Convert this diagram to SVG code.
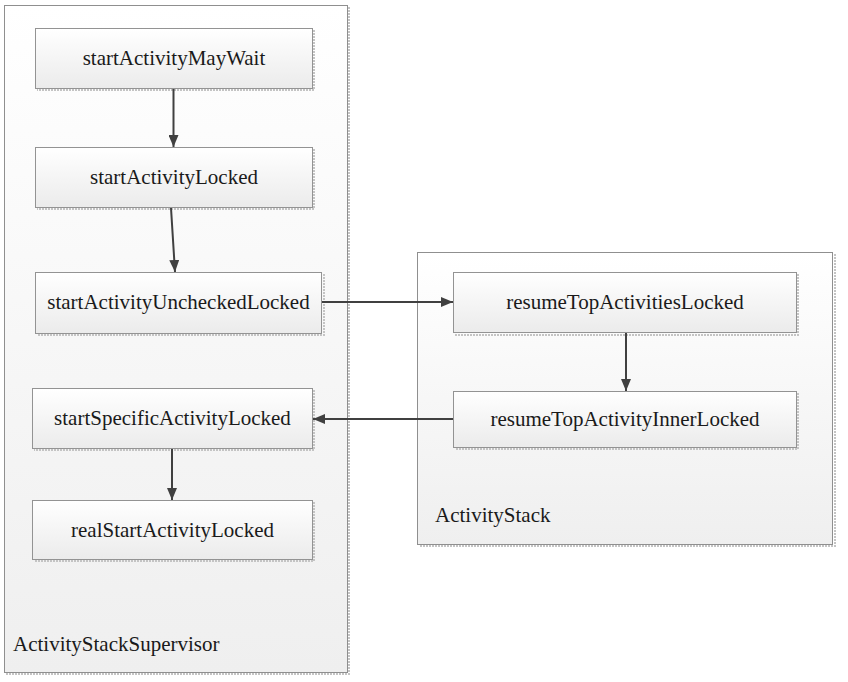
<svg xmlns="http://www.w3.org/2000/svg" width="848" height="682" viewBox="0 0 848 682">
<defs>
<linearGradient id="gc" x1="0" y1="0" x2="0" y2="1">
<stop offset="0" stop-color="#ffffff"/>
<stop offset="1" stop-color="#efefef"/>
</linearGradient>
<linearGradient id="gn" x1="0" y1="0" x2="0" y2="1">
<stop offset="0" stop-color="#ffffff"/>
<stop offset="1" stop-color="#ebebeb"/>
</linearGradient>
<marker id="ah" viewBox="0 0 12 10" refX="12" refY="5" markerWidth="12" markerHeight="10" markerUnits="userSpaceOnUse" orient="auto">
<path d="M0,0 L12,5 L0,10 Z" fill="#404040"/>
</marker>
</defs>
<style>
.cont{fill:url(#gc);stroke:#8f8f8f;stroke-width:1}
.node{fill:url(#gn);stroke:#939393;stroke-width:1}
.sh{fill:none;stroke:#c4c4c4;stroke-width:2;stroke-dasharray:2 1}
.t{font-family:'Liberation Serif','Times New Roman','DejaVu Serif',serif;font-size:21px;fill:#1a1a1a}
.c{text-anchor:middle}
.e{fill:none;stroke:#404040;stroke-width:2;marker-end:url(#ah)}
</style>
<rect width="848" height="682" fill="#ffffff"/>
<g id="ActivityStackSupervisor">
<path class="sh" d="M349,7 V674 H6"/>
<rect class="cont" x="4.5" y="5.5" width="343" height="667"/>
<text class="t" x="13" y="651">ActivityStackSupervisor</text>
</g>
<g id="ActivityStack">
<path class="sh" d="M835,254 V546 H419"/>
<rect class="cont" x="417.5" y="252.5" width="415" height="292"/>
<text class="t" x="435" y="522">ActivityStack</text>
</g>
<g id="n1">
<path class="sh" d="M314,30 V90 H37"/>
<rect class="node" x="35.5" y="28.5" width="277" height="60"/>
<text class="t c" x="174" y="65">startActivityMayWait</text>
</g>
<g id="n2">
<path class="sh" d="M314,149 V209 H37"/>
<rect class="node" x="35.5" y="147.5" width="277" height="60"/>
<text class="t c" x="174" y="184">startActivityLocked</text>
</g>
<g id="n3">
<path class="sh" d="M324,274 V335 H37"/>
<rect class="node" x="35.5" y="272.5" width="286" height="61"/>
<text class="t c" x="178.5" y="309">startActivityUncheckedLocked</text>
</g>
<g id="n4">
<path class="sh" d="M314,390 V450 H34"/>
<rect class="node" x="32.5" y="388.5" width="280" height="60"/>
<text class="t c" x="172.5" y="425">startSpecificActivityLocked</text>
</g>
<g id="n5">
<path class="sh" d="M314,502 V561 H34"/>
<rect class="node" x="32.5" y="500.5" width="280" height="59"/>
<text class="t c" x="172.5" y="537">realStartActivityLocked</text>
</g>
<g id="n6">
<path class="sh" d="M798,274 V335 H455"/>
<rect class="node" x="453.5" y="272.5" width="343" height="60"/>
<text class="t c" x="625" y="309">resumeTopActivitiesLocked</text>
</g>
<g id="n7">
<path class="sh" d="M798,393 V449 H455"/>
<rect class="node" x="453.5" y="391.5" width="343" height="56"/>
<text class="t c" x="625" y="426">resumeTopActivityInnerLocked</text>
</g>
<g id="connectors">
<line class="e" x1="173.5" y1="89" x2="173.5" y2="147"/>
<line class="e" x1="171" y1="208" x2="175" y2="272"/>
<line class="e" x1="322" y1="302" x2="453" y2="302"/>
<line class="e" x1="626" y1="333" x2="626" y2="391"/>
<line class="e" x1="453" y1="419" x2="313" y2="419"/>
<line class="e" x1="172" y1="449" x2="172" y2="500"/>
</g>
</svg>
